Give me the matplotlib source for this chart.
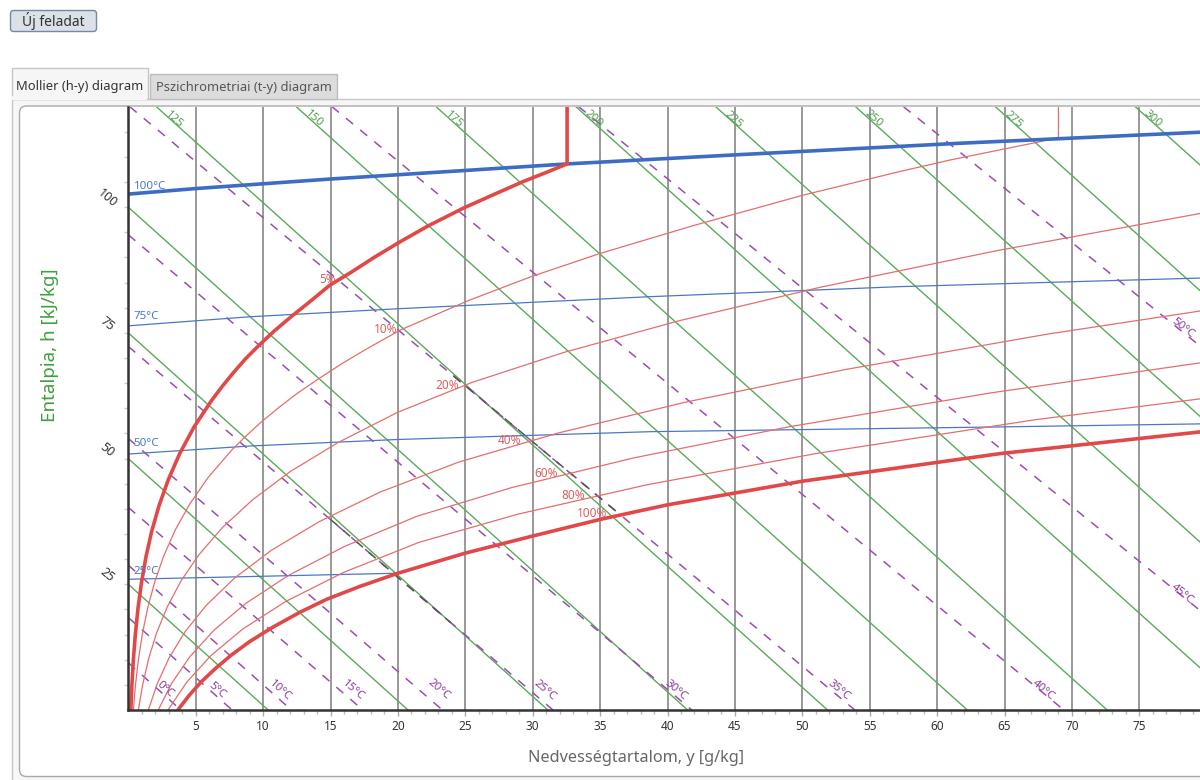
import numpy as np
import matplotlib.pyplot as plt
from matplotlib.patches import FancyBboxPatch, Rectangle

plt.rcParams['font.family'] = ['Noto Sans', 'DejaVu Sans']

# chart ranges: moisture content y [g/kg], enthalpy h [kJ/kg]
y_max = 79.5
h_max = 120
y_ticks = list(range(5, 80, 5))
h_ticks = [25, 50, 75, 100]

# constant enthalpy lines (green)
h_lines = [25, 50, 75, 100, 125, 150, 175, 200, 225, 250, 275, 300]
h_line_slope = -2.41
h_top_labels = [125, 150, 175, 200, 225, 250, 275, 300]

# wet-bulb temperature lines (purple dashed), two points on each
wb_temps = [0, 5, 10, 15, 20, 25, 30, 35, 40, 45, 50]
wb_start = [(0, 9.4), (0, 18.4), (0, 28.8), (0, 40.3), (0, 54.0), (0, 72.3),
            (0, 94.5), (0.1, 120), (15.1, 120), (33.4, 120), (57.5, 120)]
wb_end = [(3.9, 0), (7.7, 0), (12.1, 0), (17.4, 0), (23.3, 0), (31.5, 0),
          (41.8, 0), (53.9, 0), (69.4, 0), (79.5, 19.8), (79.5, 72.4)]
wb_label_at = [(2.7, 4.0), (6.6, 4.0), (11.3, 3.8), (16.7, 3.8), (23.0, 4.0), (30.9, 4.0),
               (40.6, 4.0), (52.7, 4.0), (67.9, 4.0), (78.2, 23.0), (78.2, 76.0)]

# task lines (dark dashed)
task_y = [[24.1, 36.2], [15.0, 23.9]]
task_h = [[66.5, 39.5], [37.9, 17.4]]

# isotherms (blue)
iso_temps = [25, 50, 75, 100]
iso_y = [[0, 5, 10, 19.96],
         [0, 9, 20, 38.7, 64.7, 79.5],
         [0, 9, 20, 38.7, 57.3, 79.5],
         [0, 5, 15, 25, 32.55, 45, 61.6, 79.5]]
iso_h = [[26.0, 26.3, 26.6, 27.2],
         [50.9, 52.5, 53.8, 55.35, 56.3, 56.9],
         [76.4, 78.2, 79.8, 82.2, 84.2, 85.9],
         [102.6, 103.7, 105.6, 107.3, 108.6, 110.4, 112.7, 114.9]]
iso_label_at = [27.5, 53.0, 78.2, 104.2]

# relative humidity curves (red)
rh_values = [5, 10, 20, 40, 60, 80, 100]
rh_y = [
    [0.16, 0.188, 0.268, 0.377, 0.524, 0.719, 0.975, 1.306, 1.732, 2.275, 2.967, 3.814,
     4.88, 6.19, 6.95, 7.77, 8.68, 9.72, 10.84, 12.07, 13.42, 14.96, 16.5, 18.29, 20.22,
     22.26, 24.85, 27.1, 29.3, 31.0, 32.55, 32.55],
    [0.32, 0.377, 0.536, 0.755, 1.049, 1.439, 1.954, 2.617, 3.47, 4.565, 5.94, 7.675,
     8.71, 9.83, 11.12, 12.49, 14.08, 15.75, 17.61, 20.2, 25.3, 29.9, 35.0, 42.0,
     50.07, 57.25, 61.0, 67.6, 69.0, 69.0],
    [0.64, 0.75, 1.073, 1.51, 2.101, 2.885, 3.912, 5.257, 6.99, 9.2, 12.0, 15.54,
     19.97, 25.5, 32.31, 40.81, 51.31, 64.22, 80.21],
    [1.27, 1.503, 2.149, 3.031, 4.215, 5.797, 7.88, 10.6, 14.14, 18.67, 24.48, 31.88,
     41.28, 53.17, 68.2, 87.4],
    [1.91, 2.259, 3.229, 4.556, 6.343, 8.732, 11.896, 16.04, 21.44, 28.44, 37.45,
     49.07, 64.02, 83.32],
    [2.55, 3.016, 4.313, 6.089, 8.487, 11.70, 15.96, 21.57, 28.92, 38.49, 50.97,
     67.2, 88.4],
    [3.2, 3.77, 4.53, 5.4, 6.44, 7.63, 9.0, 10.65, 12.7, 14.7, 17.2, 20.0, 25.0,
     30.0, 35.0, 40.0, 50.0, 64.7, 79.5],
]
rh_h = [
    [-2, 0, 5.03, 10.1, 15.1, 20.2, 25.3, 30.4, 35.5, 40.6, 45.8, 51.0,
     56.3, 61.6, 64.3, 67.0, 69.8, 72.6, 75.4, 78.2, 81.1, 84.5, 87.0, 90.1, 93.2,
     96.3, 99.8, 102.5, 105.1, 106.9, 108.6, 121],
    [-2, 0, 5.08, 10.14, 15.21, 20.3, 25.42, 30.57, 35.75, 41.0, 46.3, 51.7,
     54.44, 57.2, 60.05, 62.89, 65.8, 68.73, 71.7, 75.6, 81.5, 86.2, 90.8, 96.4,
     102.4, 107.1, 109.4, 113.0, 113.9, 121],
    [-2, 0.07, 5.13, 10.23, 15.34, 20.49, 25.69, 30.95, 36.3, 41.76, 47.4, 53.16,
     59.19, 65.15, 71.11, 77.38, 84.06, 91.24, 99.09],
    [-2, 0.14, 5.25, 10.39, 15.59, 20.86, 26.23, 31.74, 37.42, 43.33, 49.28, 55.08,
     61.19, 67.70, 74.76, 82.55],
    [-2, 0.21, 5.35, 10.56, 15.84, 21.24, 26.79, 32.53, 38.56, 44.23, 50.11,
     56.35, 63.08, 70.5],
    [-2, 0.27, 5.46, 10.73, 16.10, 21.62, 27.35, 33.35, 38.96, 44.80, 50.98,
     57.7, 64.9],
    [-2, 0.34, 2.95, 5.57, 8.2, 10.9, 13.6, 16.36, 19.4, 22.0, 24.6, 27.2, 31.2,
     34.6, 37.9, 40.8, 45.5, 51.0, 55.3],
]
rh_label_at = [(14.79, 85.6), (19.09, 75.6), (23.66, 64.6), (28.3, 53.5),
               (30.98, 47.1), (32.97, 42.6), (34.37, 39.1)]

W, H = 1200, 780
fig = plt.figure(figsize=(W / 100, H / 100), dpi=100)

# page elements in pixel coordinates
bg = fig.add_axes([0, 0, 1, 1])
bg.set_xlim(0, W)
bg.set_ylim(H, 0)
bg.axis('off')

bg.add_patch(FancyBboxPatch((10.5, 10.5), 86, 21, boxstyle='round,pad=0,rounding_size=3',
                            fc='#dce1e8', ec='#7589a6', lw=1))
bg.text(53.5, 21, 'Új feladat', ha='center', va='center', fontsize=10, color='#333333')

bg.add_patch(Rectangle((11.5, 98.5), 1300, 700, fc='#f6f6f6', ec='#c6c6c6', lw=1))
bg.add_patch(Rectangle((149.5, 73.5), 187, 25, fc='#dcdcdc', ec='#bdbdbd', lw=1))
bg.add_patch(Rectangle((11.5, 67.5), 136, 31, fc='#f6f6f6', ec='#c6c6c6', lw=1))
bg.add_patch(Rectangle((12.2, 96), 134.6, 4, fc='#f6f6f6', ec='none'))
bg.text(79.5, 86.5, 'Mollier (h-y) diagram', ha='center', va='center', fontsize=9.3,
        color='#333333')
bg.text(244, 87, 'Pszichrometriai (t-y) diagram', ha='center', va='center', fontsize=9.3,
        color='#555555')

bg.add_patch(FancyBboxPatch((19.5, 106), 1250, 670.5, boxstyle='round,pad=0,rounding_size=7',
                            fc='white', ec='#a9a9a9', lw=1))

bg.text(50, 345, 'Entalpia, h [kJ/kg]', rotation=90, ha='center', va='center',
        fontsize=13.5, color='#3f9f3f')
bg.text(636, 758, 'Nedvességtartalom, y [g/kg]', ha='center', va='center',
        fontsize=11.7, color='#666666')

# chart axes
ax = fig.add_axes([128.3 / W, 70 / H, 1 - 128.3 / W, 603.4 / H])
ax.set_facecolor('none')
ax.set_xlim(0, y_max)
ax.set_ylim(0, h_max)

ax.set_xticks(y_ticks)
ax.set_xticks(range(1, 80), minor=True)
ax.set_yticks(h_ticks)
ax.set_yticklabels([])
ax.set_yticks(range(5, 120, 5), minor=True)
ax.tick_params(axis='x', which='major', length=4, width=1, color='#aaaaaa',
               labelsize=8.5, labelcolor='#333333', pad=3)
ax.tick_params(axis='x', which='minor', length=3, width=1, color='#bbbbbb')
ax.tick_params(axis='y', which='both', length=3, width=1, color='#cccccc')
for s in ['top', 'right']:
    ax.spines[s].set_visible(False)
for s in ['left', 'bottom']:
    ax.spines[s].set_color('#333333')
    ax.spines[s].set_linewidth(1.8)
    ax.spines[s].set_zorder(10)
ax.grid(axis='x', which='major', color='#999999', lw=1.4)
ax.set_axisbelow(True)

for v in h_ticks:
    ax.annotate(str(v), xy=(0, v), xytext=(-21, 9), textcoords='offset pixels',
                ha='center', va='center', rotation=-40, fontsize=9, color='#333333',
                annotation_clip=False)

# screen angle of a data slope
pos = ax.get_position()
px_y = pos.width * W / y_max
px_h = pos.height * H / h_max


def screen_angle(slope):
    return np.degrees(np.arctan(slope * px_h / px_y))


# enthalpy lines
for h in h_lines:
    ax.axline((0, h), slope=h_line_slope, color='#5aaa5a', lw=1.0, zorder=2)
for h in h_top_labels:
    yy = (h - 117.1) / -h_line_slope
    ax.text(yy, 117.1, str(h), rotation=screen_angle(h_line_slope), rotation_mode='anchor',
            ha='center', va='baseline', fontsize=8.3, color='#4f9f4f', zorder=6)

# wet-bulb lines
for t, p1, p2, lab in zip(wb_temps, wb_start, wb_end, wb_label_at):
    ax.axline(p1, p2, color='#9b4db0', lw=1.1, dashes=(6, 6), zorder=3)
    sl = (p2[1] - p1[1]) / (p2[0] - p1[0])
    ax.text(lab[0], lab[1], f'{t}°C', rotation=screen_angle(sl), rotation_mode='anchor',
            ha='center', va='center', fontsize=8.3, color='#8a3a9e', zorder=6)

for ty, th in zip(task_y, task_h):
    ax.plot(ty, th, color='#555555', lw=1.1, dashes=(6, 5), zorder=3.5)

# isotherms
for t, yy, hh, lab in zip(iso_temps, iso_y, iso_h, iso_label_at):
    thick = t == 100
    ax.plot(yy, hh, color='#3d6cc4' if thick else '#4a78c2', lw=2.6 if thick else 0.9,
            zorder=4.5 if thick else 4, solid_capstyle='butt')
    ax.text(0.4, lab, f'{t}°C', ha='left', va='center', fontsize=8.3, color='#4a78c2', zorder=6)

# relative humidity curves
for phi, yy, hh, lab in zip(rh_values, rh_y, rh_h, rh_label_at):
    thick = phi in (5, 100)
    ax.plot(yy, hh, color='#e24848' if thick else '#e46e6e', lw=2.6 if thick else 0.9,
            zorder=5 if thick else 4.2, solid_joinstyle='round')
    ax.text(lab[0], lab[1], f'{phi}%', ha='center', va='center', fontsize=8.5,
            color='#d95f5f', zorder=6)

fig.savefig('out.png', dpi=100)
